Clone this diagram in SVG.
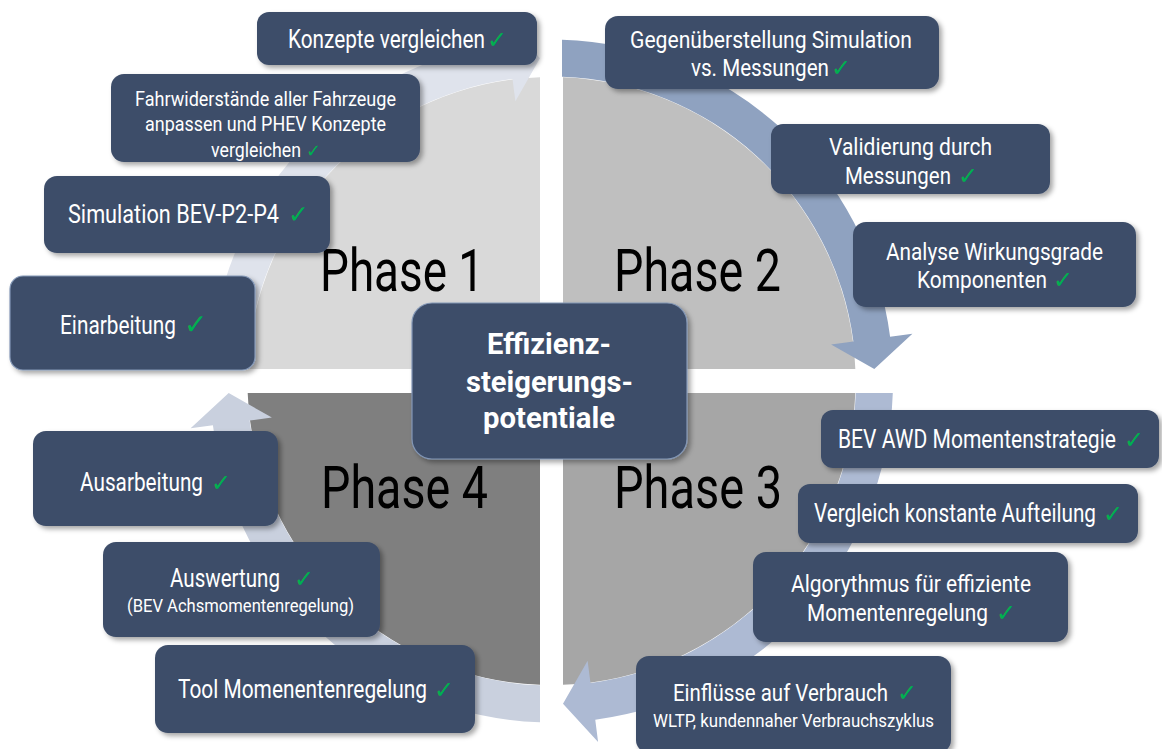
<svg xmlns="http://www.w3.org/2000/svg" width="1162" height="749" viewBox="0 0 1162 749">
  <defs>
    <filter id="shadow" x="-10%" y="-15%" width="125%" height="140%">
      <feDropShadow dx="3" dy="3" stdDeviation="2.5" flood-color="#000" flood-opacity="0.35"/>
    </filter>
    <style>
      .box { fill: #3d4d69; filter: url(#shadow); }
      .box-edge { stroke: #8397b6; stroke-width: 1.2; }
      .t { fill: #ffffff; font-family: Roboto, "Liberation Sans", sans-serif; font-size: 25px; }
      .m { font-size: 24px; }
      .sm { font-size: 21px; }
      .xs { font-size: 18px; }
      .ctr { fill: #ffffff; font-family: Roboto, "Liberation Sans", sans-serif; font-size: 30px; font-weight: bold; }
      .ck { fill: #00b050; font-family: "DejaVu Sans", sans-serif; }
      .phase { fill: #000000; font-family: Roboto, "Liberation Sans", sans-serif; font-size: 59px; }
    </style>
  </defs>
  <rect width="1162" height="749" fill="#ffffff"/>

  <!-- four quarter discs around the centre (551.5, 381) -->
  <g id="quadrants">
    <path id="q1" d="M540,369 L540,77.2 A304,304 0 0 0 247.7,369 Z" fill="#d9d9d9"/>
    <path id="q2" d="M563,369 L563,77.2 A304,304 0 0 1 855.3,369 Z" fill="#bfbfbf"/>
    <path id="q3" d="M563,393 L855.3,393 A304,304 0 0 1 563,684.8 Z" fill="#a6a6a6"/>
    <path id="q4" d="M540,393 L540,684.8 A304,304 0 0 1 247.7,393 Z" fill="#7f7f7f"/>
  </g>

  <!-- clockwise ring arrows, one per quadrant -->
  <g id="connectors">
    <path id="arrow-1" d="M210.2,369 A341.5,341.5 0 0 1 507.75,42.3 L504.9,20 L540,58.2 L515.4,101.3 L512.5,79 A304.5,304.5 0 0 0 247.2,369 Z" fill="#dfe3ec"/>
    <path id="arrow-2" d="M562,39.7 A341.5,341.5 0 0 1 890.1,336.7 L912.4,333.8 L874.3,369 L831.1,344.4 L853.4,341.5 A304.5,304.5 0 0 0 562,76.7 Z" fill="#8fa2c0"/>
    <path id="arrow-3" d="M892.8,393 A341.5,341.5 0 0 1 595.25,719.7 L598.1,742 L563,703.8 L587.6,660.7 L590.5,683 A304.5,304.5 0 0 0 855.8,393 Z" fill="#adbad3"/>
    <path id="arrow-4" d="M540,722.3 A341.5,341.5 0 0 1 212.9,425.3 L190.6,428.2 L228.7,393 L271.9,417.6 L249.6,420.5 A304.5,304.5 0 0 0 540,685.3 Z" fill="#c9d0de"/>
  </g>

  <!-- phase labels -->
  <g id="phase-labels">
    <text class="phase" x="320" y="291" textLength="164" lengthAdjust="spacingAndGlyphs">Phase 1</text>
    <text class="phase" x="614" y="291" textLength="167" lengthAdjust="spacingAndGlyphs">Phase 2</text>
    <text class="phase" x="614" y="508" textLength="168" lengthAdjust="spacingAndGlyphs">Phase 3</text>
    <text class="phase" x="321" y="508" textLength="167" lengthAdjust="spacingAndGlyphs">Phase 4</text>
  </g>

  <!-- Phase 1 steps -->
  <g id="konzepte">
    <rect class="box" x="257" y="12" width="280" height="53" rx="12"/>
    <text class="t" x="288" y="48"><tspan textLength="197" lengthAdjust="spacingAndGlyphs">Konzepte vergleichen</tspan><tspan class="ck" dx="2" style="font-size:24px">✓</tspan></text>
  </g>
  <g id="fahrwiderstaende">
    <rect class="box" x="111" y="74" width="309" height="88" rx="13"/>
    <text class="t sm" x="135" y="106" textLength="261" lengthAdjust="spacingAndGlyphs">Fahrwiderstände aller Fahrzeuge</text>
    <text class="t sm" x="145" y="131" textLength="241" lengthAdjust="spacingAndGlyphs">anpassen und PHEV Konzepte</text>
    <text class="t sm" x="211" y="157"><tspan textLength="90" lengthAdjust="spacingAndGlyphs">vergleichen</tspan><tspan class="ck" dx="5" style="font-size:18px">✓</tspan></text>
  </g>
  <g id="simulation">
    <rect class="box" x="44" y="176" width="286" height="77" rx="13"/>
    <text class="t" x="68" y="223"><tspan textLength="211" lengthAdjust="spacingAndGlyphs">Simulation BEV-P2-P4</tspan><tspan class="ck" dx="9" style="font-size:25px">✓</tspan></text>
  </g>
  <g id="einarbeitung">
    <rect class="box box-edge" x="10" y="276" width="245" height="94" rx="13"/>
    <text class="t" x="60" y="334"><tspan textLength="116" lengthAdjust="spacingAndGlyphs">Einarbeitung</tspan><tspan class="ck" dx="8" style="font-size:28px">✓</tspan></text>
  </g>

  <!-- Phase 2 steps -->
  <g id="gegenueberstellung">
    <rect class="box" x="605" y="16" width="334" height="73" rx="13"/>
    <text class="t m" x="630" y="48" textLength="282" lengthAdjust="spacingAndGlyphs">Gegenüberstellung Simulation</text>
    <text class="t m" x="691" y="76"><tspan textLength="138" lengthAdjust="spacingAndGlyphs">vs. Messungen</tspan><tspan class="ck" dx="2" style="font-size:24px">✓</tspan></text>
  </g>
  <g id="validierung">
    <rect class="box" x="771" y="124" width="279" height="70" rx="12"/>
    <text class="t m" x="829" y="155" textLength="163" lengthAdjust="spacingAndGlyphs">Validierung durch</text>
    <text class="t m" x="845" y="184"><tspan textLength="106" lengthAdjust="spacingAndGlyphs">Messungen</tspan><tspan class="ck" dx="7" style="font-size:24px">✓</tspan></text>
  </g>
  <g id="analyse">
    <rect class="box" x="853" y="222" width="283" height="85" rx="13"/>
    <text class="t m" x="886" y="260" textLength="217" lengthAdjust="spacingAndGlyphs">Analyse Wirkungsgrade</text>
    <text class="t m" x="917" y="288"><tspan textLength="130" lengthAdjust="spacingAndGlyphs">Komponenten</tspan><tspan class="ck" dx="6" style="font-size:24px">✓</tspan></text>
  </g>

  <!-- central topic -->
  <g id="zentrum">
    <rect class="box box-edge" x="412" y="303" width="275" height="156" rx="20"/>
    <text class="ctr" x="487" y="354" textLength="124" lengthAdjust="spacingAndGlyphs">Effizienz-</text>
    <text class="ctr" x="466" y="392" textLength="167" lengthAdjust="spacingAndGlyphs">steigerungs-</text>
    <text class="ctr" x="483" y="428" textLength="132" lengthAdjust="spacingAndGlyphs">potentiale</text>
  </g>

  <!-- Phase 3 steps -->
  <g id="awd-strategie">
    <rect class="box" x="821" y="410" width="338" height="58" rx="12"/>
    <text class="t" x="838" y="448"><tspan textLength="278" lengthAdjust="spacingAndGlyphs">BEV AWD Momentenstrategie</tspan><tspan class="ck" dx="8" style="font-size:24px">✓</tspan></text>
  </g>
  <g id="vergleich">
    <rect class="box" x="798" y="484" width="340" height="59" rx="12"/>
    <text class="t" x="814" y="522"><tspan textLength="282" lengthAdjust="spacingAndGlyphs">Vergleich konstante Aufteilung</tspan><tspan class="ck" dx="7" style="font-size:24px">✓</tspan></text>
  </g>
  <g id="algorythmus">
    <rect class="box" x="753" y="552" width="315" height="90" rx="13"/>
    <text class="t m" x="791" y="592" textLength="240" lengthAdjust="spacingAndGlyphs">Algorythmus für effiziente</text>
    <text class="t m" x="807" y="621"><tspan textLength="181" lengthAdjust="spacingAndGlyphs">Momentenregelung</tspan><tspan class="ck" dx="8" style="font-size:24px">✓</tspan></text>
  </g>
  <g id="einfluesse">
    <rect class="box" x="636" y="656" width="315" height="97" rx="13"/>
    <text class="t m" x="673" y="701"><tspan textLength="215" lengthAdjust="spacingAndGlyphs">Einflüsse auf Verbrauch</tspan><tspan class="ck" dx="9" style="font-size:24px">✓</tspan></text>
    <text class="t xs" x="653" y="727" textLength="281" lengthAdjust="spacingAndGlyphs">WLTP, kundennaher Verbrauchszyklus</text>
  </g>

  <!-- Phase 4 steps -->
  <g id="tool">
    <rect class="box" x="155" y="645" width="320" height="88" rx="13"/>
    <text class="t" x="178" y="698"><tspan textLength="249" lengthAdjust="spacingAndGlyphs">Tool Momenentenregelung</tspan><tspan class="ck" dx="7" style="font-size:24px">✓</tspan></text>
  </g>
  <g id="auswertung">
    <rect class="box" x="103" y="542" width="277" height="95" rx="13"/>
    <text class="t" x="170" y="587"><tspan textLength="110" lengthAdjust="spacingAndGlyphs">Auswertung</tspan><tspan class="ck" dx="14" style="font-size:24px">✓</tspan></text>
    <text class="t xs" x="127" y="612" textLength="227" lengthAdjust="spacingAndGlyphs">(BEV Achsmomentenregelung)</text>
  </g>
  <g id="ausarbeitung">
    <rect class="box" x="33" y="431" width="245" height="95" rx="13"/>
    <text class="t" x="80" y="491"><tspan textLength="123" lengthAdjust="spacingAndGlyphs">Ausarbeitung</tspan><tspan class="ck" dx="8" style="font-size:24px">✓</tspan></text>
  </g>
</svg>
